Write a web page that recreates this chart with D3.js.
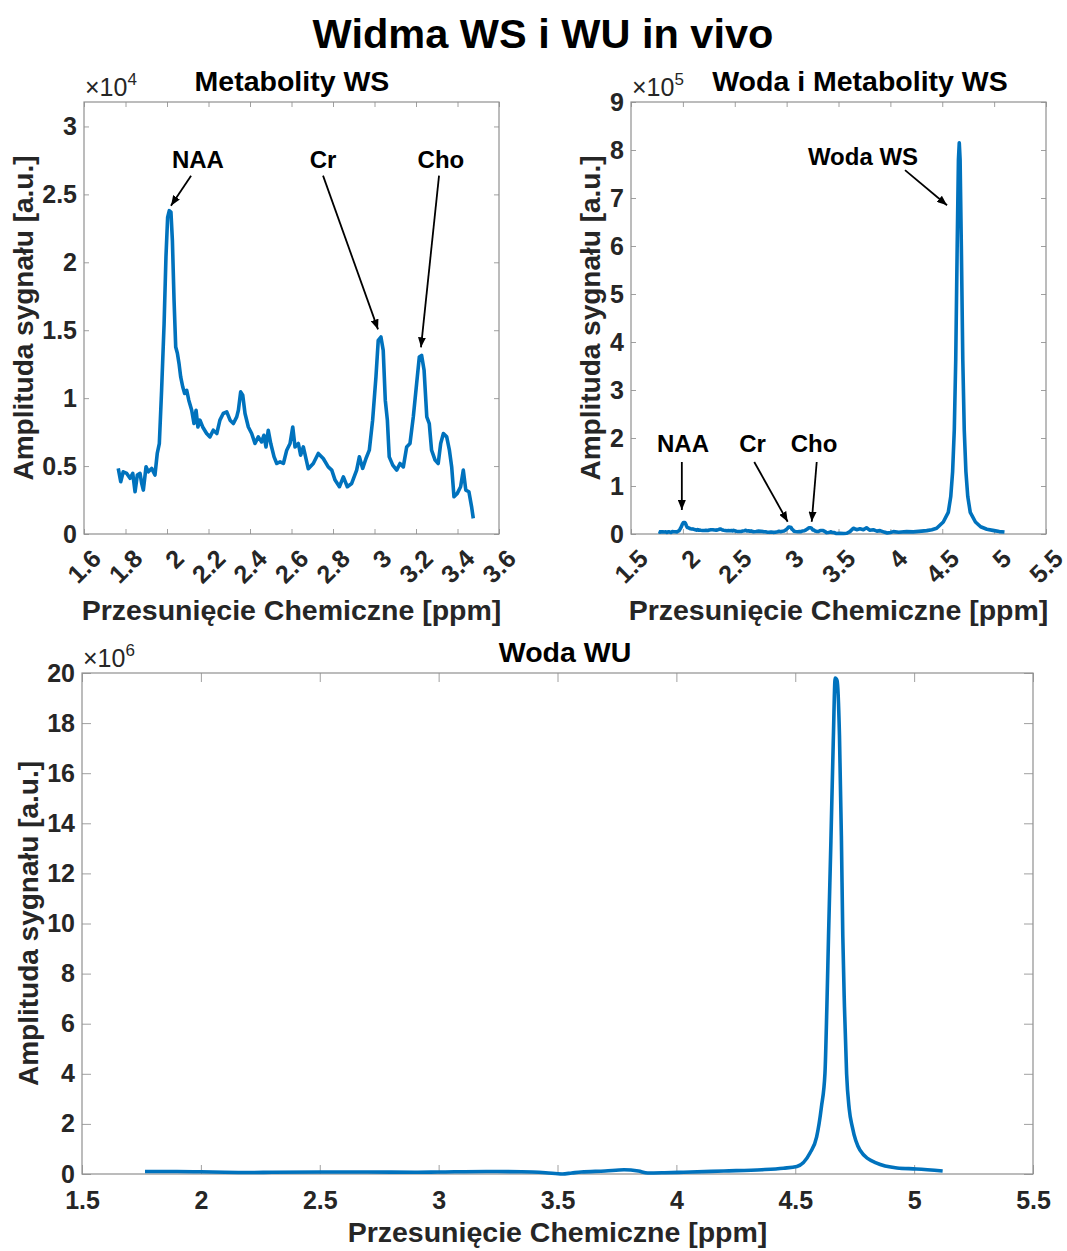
<!DOCTYPE html>
<html>
<head>
<meta charset="utf-8">
<script src="https://cdn.jsdelivr.net/npm/d3@7"></script>
<style>
    body { margin: 0; background: #fff; }
    text { font-family: "Liberation Sans", Arial, sans-serif; font-weight: bold; fill: #262626; }
</style>
</head>
<body>
<svg id="chart" width="1067" height="1251"></svg>
<script>
'use strict';

// WS spectrum (water suppressed), ppm and amplitude [a.u.]
const ppmWS = [1.765, 1.777, 1.789, 1.806, 1.822, 1.835, 1.846, 1.857, 1.870, 1.878, 1.886, 1.899, 1.910, 1.926, 1.942,
    1.953, 1.963, 1.974, 1.986, 1.995, 2.003, 2.011, 2.019, 2.026, 2.034, 2.042, 2.050, 2.058, 2.066, 2.076, 2.085,
    2.095, 2.105, 2.119, 2.130, 2.140, 2.149, 2.159, 2.172, 2.191, 2.207, 2.223, 2.240, 2.255, 2.271, 2.288, 2.304,
    2.320, 2.336, 2.344, 2.355, 2.365, 2.376, 2.392, 2.408, 2.424, 2.440, 2.456, 2.467, 2.477, 2.488, 2.500, 2.516,
    2.529, 2.545, 2.561, 2.577, 2.593, 2.606, 2.617, 2.633, 2.644, 2.657, 2.681, 2.705, 2.729, 2.753, 2.777, 2.794,
    2.810, 2.831, 2.850, 2.869, 2.890, 2.914, 2.927, 2.943, 2.959, 2.975, 2.991, 3.007, 3.018, 3.031, 3.042, 3.052,
    3.062, 3.071, 3.088, 3.107, 3.123, 3.139, 3.155, 3.171, 3.187, 3.203, 3.216, 3.227, 3.239, 3.252, 3.264, 3.275,
    3.292, 3.307, 3.319, 3.332, 3.348, 3.361, 3.372, 3.383, 3.399, 3.415, 3.428, 3.440, 3.455, 3.468, 3.476,
    3.514, 3.550, 3.580, 3.610, 3.643, 3.675, 3.707, 3.740, 3.770, 3.800, 3.835, 3.870, 3.900, 3.940, 3.970, 4.000,
    4.030, 4.080, 4.157, 4.220, 4.300, 4.350, 4.400, 4.446, 4.510, 4.558, 4.582, 4.600, 4.616, 4.630, 4.644, 4.656,
    4.664, 4.672, 4.684, 4.698, 4.712, 4.728, 4.746, 4.770, 4.820, 4.870, 4.930, 5.000, 5.050, 5.100];
const ampWS = [4830, 3850, 4580, 4460, 4100, 4460, 3110, 4340, 4460, 3730, 3230, 4950, 4580, 4830, 4340,
    5930, 6660, 10580, 15480, 20400, 23300, 23800, 23700, 21600, 17200, 13760, 13300, 12540, 11560, 10820, 10340,
    10580, 9850, 9110, 8130, 9110, 7880, 8380, 7880, 7400, 7150, 7640, 7400, 8380, 8870, 8990, 8380,
    8130, 8620, 9110, 10460, 10210, 8870, 7880, 7400, 6660, 7150, 6780, 7270, 6410, 7640, 6660, 5680,
    5190, 5310, 5190, 6170, 6660, 7880, 6410, 6660, 5800, 6410, 4800, 5190, 5930, 5560, 4940, 4700,
    3970, 3480, 4210, 3480, 3720, 4700, 5680, 4830, 5560, 6170, 8380, 11560, 14250, 14500, 13520, 9850,
    8380, 5680, 5070, 4700, 5190, 4940, 6410, 6660, 8620, 11070, 13030, 13150, 12050, 8620, 8130, 6170,
    5440, 5190, 6660, 7400, 7150, 6170, 4940, 2740, 2990, 3480, 4700, 3230, 3110, 2000, 1150,
    1500, 1000, 1500, 5000, 12000, 9000, 11000, 9000, 13000, 8000, 9000, 6000, 7000, 4000, 2000, 3000,
    5000, 3500, 5000, 4500, 6000, 7000, 9000, 12000, 25000, 45000, 78000, 130000, 217000, 363000, 600000, 780000,
    815000, 780000, 600000, 363000, 217000, 130000, 78000, 45000, 25000, 15000, 10000, 7000, 5000, 4000];

// WU spectrum (water unsuppressed)
const ppmWU = [1.765, 1.900, 2.000, 2.100, 2.200, 2.300, 2.500, 2.700, 2.900, 3.000, 3.200, 3.350, 3.450, 3.520,
    3.560, 3.600, 3.700, 3.780, 3.840, 3.880, 3.950, 4.030, 4.200, 4.360, 4.450, 4.507, 4.562, 4.590, 4.610,
    4.625, 4.633, 4.640, 4.650, 4.660, 4.668, 4.676, 4.686, 4.694, 4.700, 4.707, 4.716, 4.727, 4.740, 4.772,
    4.840, 4.928, 5.010, 5.120];
const ampWU = [100000, 100000, 90000, 70000, 60000, 70000, 80000, 80000, 70000, 80000, 100000, 90000, 50000, 0,
    40000, 80000, 120000, 170000, 120000, 40000, 50000, 70000, 120000, 170000, 230000, 300000, 840000, 1480000, 2670000,
    4030000, 6670000, 9500000, 13300000, 17300000, 19800000, 19700000, 17500000, 13500000, 9500000, 6670000, 4000000, 2600000, 1880000, 960000,
    440000, 240000, 200000, 120000];

// tick values
const xTicksMet = [1.6, 1.8, 2, 2.2, 2.4, 2.6, 2.8, 3, 3.2, 3.4, 3.6];
const yTicksMet = [0, 5000, 10000, 15000, 20000, 25000, 30000];
const xTicksWide = [1.5, 2, 2.5, 3, 3.5, 4, 4.5, 5, 5.5];
const yTicksWS = [0, 1e5, 2e5, 3e5, 4e5, 5e5, 6e5, 7e5, 8e5, 9e5];
const yTicksWU = [0, 2e6, 4e6, 6e6, 8e6, 10e6, 12e6, 14e6, 16e6, 18e6, 20e6];

// annotations: label position and arrow (from -> to) in data units
const notesMet = [
    { label: "NAA", tx: 2.149, ty: 26970, x1: 2.116, y1: 26380, x2: 2.019, y2: 24170 },
    { label: "Cr", tx: 2.752, ty: 26970, x1: 2.752, y1: 26380, x2: 3.017, y2: 15060 },
    { label: "Cho", tx: 3.320, ty: 26970, x1: 3.311, y1: 26380, x2: 3.224, y2: 13740 }
];
const notesWS = [
    { label: "Woda WS", tx: 3.736, ty: 769000, x1: 4.141, y1: 758000, x2: 4.546, y2: 685000 },
    { label: "NAA", tx: 2.001, ty: 171500, x1: 1.990, y1: 150000, x2: 1.990, y2: 50000 },
    { label: "Cr", tx: 2.671, ty: 171500, x1: 2.688, y1: 150000, x2: 3.010, y2: 25600 },
    { label: "Cho", tx: 3.264, ty: 171500, x1: 3.290, y1: 150000, x2: 3.242, y2: 25600 }
];

const svg = d3.select("#chart");
const blue = "#0072BD";

svg.append("defs").append("marker")
    .attr("id", "head")
    .attr("markerUnits", "userSpaceOnUse")
    .attr("viewBox", "0 0 10 8")
    .attr("refX", 10).attr("refY", 4)
    .attr("markerWidth", 10).attr("markerHeight", 8)
    .attr("orient", "auto")
    .append("path")
    .attr("d", "M0,0 L10,4 L0,8 Z")
    .attr("fill", "#000");

svg.append("text")
    .attr("x", 543).attr("y", 48)
    .attr("text-anchor", "middle")
    .style("font-size", "41.5px")
    .style("fill", "#000")
    .text("Widma WS i WU in vivo");

function drawPanel(o) {
    const g = svg.append("g");
    const x = d3.scaleLinear().domain(o.xDomain).range([o.left, o.right]);
    const y = d3.scaleLinear().domain(o.yDomain).range([o.bottom, o.top]);
    const fmt = d => String(+(d / o.factor).toFixed(4));

    // inward ticks on all four sides
    const xb = g.append("g").attr("transform", `translate(0,${o.bottom})`)
        .call(d3.axisBottom(x).tickValues(o.xTicks).tickSizeInner(-o.tick).tickSizeOuter(0)
            .tickPadding(o.rotate ? 0 : 17).tickFormat(d => String(d)));
    g.append("g").attr("transform", `translate(0,${o.top})`)
        .call(d3.axisTop(x).tickValues(o.xTicks).tickSizeInner(-o.tick).tickSizeOuter(0).tickFormat(""));
    g.append("g").attr("transform", `translate(${o.left},0)`)
        .call(d3.axisLeft(y).tickValues(o.yTicks).tickSizeInner(-o.tick).tickSizeOuter(0)
            .tickPadding(7).tickFormat(fmt));
    g.append("g").attr("transform", `translate(${o.right},0)`)
        .call(d3.axisRight(y).tickValues(o.yTicks).tickSizeInner(-o.tick).tickSizeOuter(0).tickFormat(""));

    g.selectAll(".domain").remove();
    g.selectAll(".tick line").attr("stroke", "#a0a0a0");
    g.selectAll(".tick text").attr("fill", "#262626").style("font-size", "25px")
        .style("font-family", "'Liberation Sans', Arial, sans-serif").style("font-weight", "bold");

    if (o.rotate) {
        xb.selectAll(".tick text")
            .attr("y", 0).attr("dy", "0.35em")
            .attr("text-anchor", "end")
            .attr("transform", "translate(12,20) rotate(-45)");
    }

    g.append("rect")
        .attr("x", o.left).attr("y", o.top)
        .attr("width", o.right - o.left).attr("height", o.bottom - o.top)
        .attr("fill", "none").attr("stroke", "#909090").attr("stroke-width", 1.2);

    // spectrum
    const pts = o.ppm.map((p, i) => [p, o.amp[i]]).filter(d => d[0] <= o.maxPpm);
    g.append("path")
        .datum(pts)
        .attr("fill", "none")
        .attr("stroke", blue)
        .attr("stroke-width", 3.6)
        .attr("stroke-linejoin", "round")
        .attr("d", d3.line().x(d => x(d[0])).y(d => y(d[1])).curve(o.curve));

    // exponent
    const ex = g.append("text")
        .attr("x", o.left + 1).attr("y", o.top - 6)
        .style("font-size", "25px").style("font-weight", "normal");
    ex.append("tspan").text("×10");
    ex.append("tspan").attr("dy", -11).style("font-size", "17px").text(o.expo);

    g.append("text")
        .attr("x", o.titleX).attr("y", o.top - 11)
        .attr("text-anchor", "middle")
        .style("font-size", "28.5px").style("fill", "#000")
        .text(o.title);

    g.append("text")
        .attr("x", (o.left + o.right) / 2).attr("y", o.xLabelY)
        .attr("text-anchor", "middle")
        .style("font-size", "28.5px")
        .text("Przesunięcie Chemiczne [ppm]");

    g.append("text")
        .attr("transform", `translate(${o.yLabelX},${(o.top + o.bottom) / 2}) rotate(-90)`)
        .attr("text-anchor", "middle")
        .style("font-size", "28px")
        .text("Amplituda sygnału [a.u.]");

    // annotations
    (o.notes || []).forEach(n => {
        g.append("line")
            .attr("x1", x(n.x1)).attr("y1", y(n.y1))
            .attr("x2", x(n.x2)).attr("y2", y(n.y2))
            .attr("stroke", "#000").attr("stroke-width", 1.8)
            .attr("marker-end", "url(#head)");
        g.append("text")
            .attr("x", x(n.tx)).attr("y", y(n.ty))
            .attr("text-anchor", "middle")
            .style("font-size", "24px").style("fill", "#000")
            .text(n.label);
    });
}

drawPanel({
    left: 84, right: 499, top: 102, bottom: 534, tick: 5,
    xDomain: [1.6, 3.6], yDomain: [0, 31800], xTicks: xTicksMet, yTicks: yTicksMet,
    factor: 1e4, expo: "4", rotate: true, ppm: ppmWS, amp: ampWS, maxPpm: 3.48, curve: d3.curveLinear,
    title: "Metabolity WS", titleX: 292, xLabelY: 620, yLabelX: 33, notes: notesMet
});

drawPanel({
    left: 631, right: 1046, top: 102, bottom: 534, tick: 5,
    xDomain: [1.5, 5.5], yDomain: [0, 9e5], xTicks: xTicksWide, yTicks: yTicksWS,
    factor: 1e5, expo: "5", rotate: true, ppm: ppmWS, amp: ampWS, maxPpm: 6, curve: d3.curveLinear,
    title: "Woda i Metabolity WS", titleX: 860, xLabelY: 620, yLabelX: 600, notes: notesWS
});

drawPanel({
    left: 82, right: 1033, top: 673, bottom: 1174, tick: 9,
    xDomain: [1.5, 5.5], yDomain: [0, 20e6], xTicks: xTicksWide, yTicks: yTicksWU,
    factor: 1e6, expo: "6", rotate: false, ppm: ppmWU, amp: ampWU, maxPpm: 6, curve: d3.curveMonotoneX,
    title: "Woda WU", titleX: 565, xLabelY: 1242, yLabelX: 38, notes: []
});
</script>
</body>
</html>
